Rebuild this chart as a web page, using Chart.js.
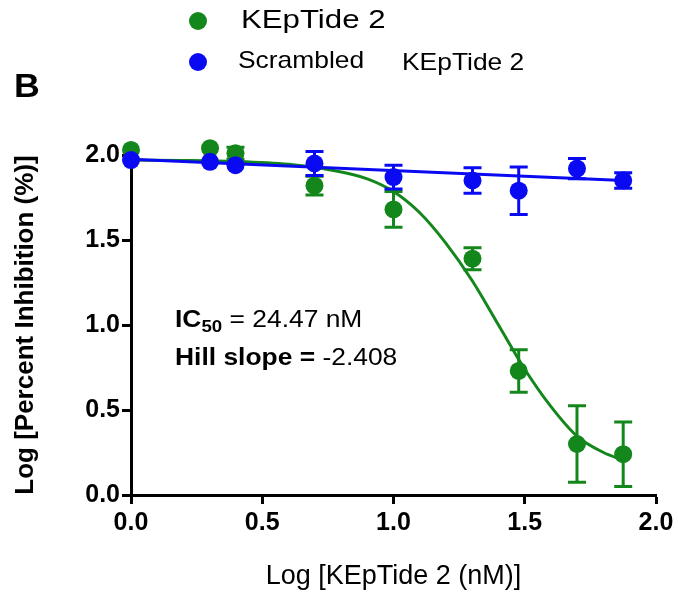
<!DOCTYPE html>
<html>
<head>
<meta charset="utf-8">
<script src="https://cdn.jsdelivr.net/npm/chart.js@4.4.1/dist/chart.umd.min.js"></script>
<style>
  html, body { margin: 0; padding: 0; background: #fff; }
  #wrap { width: 678px; height: 597px; position: relative; }
</style>
</head>
<body>
<div id="wrap"><canvas id="ic50Chart"></canvas></div>
<script>
// log [nM] de cada dosis
const dosis = [0, 0.301, 0.398, 0.699, 1.0, 1.301, 1.477, 1.699, 1.875];
const kepTide = [2.03, 2.04, 2.01, 1.82, 1.68, 1.39, 0.73, 0.3, 0.24];
const kepTideErr = [0, 0, 0.035, 0.055, 0.105, 0.065, 0.125, 0.225, 0.19];
const scrambled = [1.97, 1.96, 1.94, 1.95, 1.87, 1.85, 1.79, 1.92, 1.85];
const scrambledErr = [0, 0, 0, 0.07, 0.07, 0.075, 0.14, 0.06, 0.045];

// curva ajustada
const curvaX = [0, 0.2, 0.4, 0.6, 0.75, 0.9, 1.0, 1.1, 1.2, 1.3, 1.4, 1.5, 1.6, 1.7, 1.8, 1.875];
const curvaKepTide = [1.97, 1.968, 1.962, 1.945, 1.915, 1.86, 1.785, 1.66, 1.48, 1.26, 1.0, 0.74, 0.52, 0.345, 0.25, 0.205];
const rectaX = [0, 1.875];
const rectaScrambled = [1.975, 1.85];

const ejeTicks = [0, 0.5, 1.0, 1.5, 2.0];

const VERDE = "#14871c";
const AZUL = "#0a0af2";
const FUENTE = "'Liberation Sans', Arial, sans-serif";

Chart.defaults.font.family = FUENTE;
Chart.defaults.color = "#000";

const puntos = (xs, ys) => xs.map((x, i) => ({ x: x, y: ys[i] }));

const barrasError = {
  id: "barrasError",
  afterDatasetDraw(chart, args) {
    const ds = chart.data.datasets[args.index];
    if (!ds.errores) return;
    const ctx = chart.ctx;
    const xs = chart.scales.x;
    const ys = chart.scales.y;
    ctx.save();
    ctx.strokeStyle = ds.backgroundColor;
    ctx.lineWidth = 3;
    ds.data.forEach((p, i) => {
      const e = ds.errores[i];
      if (!e) return;
      const px = xs.getPixelForValue(p.x);
      const y1 = ys.getPixelForValue(p.y + e);
      const y2 = ys.getPixelForValue(p.y - e);
      ctx.beginPath();
      ctx.moveTo(px, y1);
      ctx.lineTo(px, y2);
      ctx.moveTo(px - 9, y1);
      ctx.lineTo(px + 9, y1);
      ctx.moveTo(px - 9, y2);
      ctx.lineTo(px + 9, y2);
      ctx.stroke();
    });
    ctx.restore();
  },
};

function textoEstirado(ctx, partes, x, y, sx) {
  ctx.save();
  ctx.translate(x, y);
  ctx.scale(sx, 1);
  ctx.textBaseline = "middle";
  ctx.textAlign = "left";
  ctx.fillStyle = "#000";
  let cx = 0;
  partes.forEach((p) => {
    ctx.font = p.font;
    ctx.fillText(p.t, cx, p.dy || 0);
    cx += ctx.measureText(p.t).width;
  });
  ctx.restore();
}

const textos = {
  id: "textos",
  afterDraw(chart) {
    const ctx = chart.ctx;
    // leyenda
    ctx.save();
    ctx.fillStyle = VERDE;
    ctx.beginPath();
    ctx.arc(198, 21, 9, 0, Math.PI * 2);
    ctx.fill();
    ctx.fillStyle = AZUL;
    ctx.beginPath();
    ctx.arc(198, 62, 9, 0, Math.PI * 2);
    ctx.fill();
    ctx.restore();
    textoEstirado(ctx, [{ t: "KEpTide 2", font: "26px " + FUENTE }], 241, 21, 1.2);
    textoEstirado(ctx, [{ t: "Scrambled", font: "24px " + FUENTE }], 238, 61, 1.1);
    textoEstirado(ctx, [{ t: "KEpTide 2", font: "24px " + FUENTE }], 402, 63, 1.1);
    textoEstirado(ctx, [{ t: "B", font: "bold 34px " + FUENTE }], 14, 88, 1.05);
    // anotaciones
    textoEstirado(ctx, [
      { t: "IC", font: "bold 24px " + FUENTE },
      { t: "50", font: "bold 17px " + FUENTE, dy: 7 },
      { t: " = 24.47 nM", font: "24px " + FUENTE },
    ], 175, 320, 1.1);
    textoEstirado(ctx, [
      { t: "Hill slope =", font: "bold 24px " + FUENTE },
      { t: " -2.408", font: "24px " + FUENTE },
    ], 175, 358, 1.1);
  },
};

const ejeComun = {
  type: "linear",
  min: 0,
  max: 2,
  afterBuildTicks: (s) => {
    s.ticks = ejeTicks.map((v) => ({ value: v }));
  },
  grid: { drawOnChartArea: false, drawTicks: true, tickLength: 9, tickWidth: 3, tickColor: "#000" },
  border: { display: true, width: 3, color: "#000" },
};

new Chart(document.getElementById("ic50Chart"), {
  type: "scatter",
  data: {
    datasets: [
      {
        label: "Scrambled KEpTide 2",
        data: puntos(dosis, scrambled),
        errores: scrambledErr,
        backgroundColor: AZUL,
        borderColor: AZUL,
        pointRadius: 9,
        pointBorderWidth: 0,
        showLine: false,
        clip: false,
        order: 0,
      },
      {
        label: "ajuste scrambled",
        data: puntos(rectaX, rectaScrambled),
        borderColor: AZUL,
        borderWidth: 3,
        pointRadius: 0,
        showLine: true,
        clip: false,
        order: 1,
      },
      {
        label: "KEpTide 2",
        data: puntos(dosis, kepTide),
        errores: kepTideErr,
        backgroundColor: VERDE,
        borderColor: VERDE,
        pointRadius: 9,
        pointBorderWidth: 0,
        showLine: false,
        clip: false,
        order: 2,
      },
      {
        label: "ajuste KEpTide 2",
        data: puntos(curvaX, curvaKepTide),
        borderColor: VERDE,
        borderWidth: 3,
        pointRadius: 0,
        showLine: true,
        cubicInterpolationMode: "monotone",
        clip: false,
        order: 3,
      },
    ],
  },
  options: {
    responsive: true,
    maintainAspectRatio: false,
    animation: false,
    layout: { padding: { top: 155, right: 22, left: 0, bottom: 0 } },
    plugins: { legend: { display: false }, tooltip: { enabled: false } },
    scales: {
      x: {
        ...ejeComun,
        ticks: {
          callback: (v) => Number(v).toFixed(1),
          font: { size: 25, weight: "bold" },
          padding: 4,
          maxRotation: 0,
        },
        title: {
          display: true,
          text: "Log [KEpTide 2 (nM)]",
          font: { size: 27 },
          padding: { top: 0, bottom: 4 },
        },
        afterFit: (s) => {
          s.height = 102;
        },
      },
      y: {
        ...ejeComun,
        ticks: {
          callback: (v) => Number(v).toFixed(1),
          font: { size: 25, weight: "bold" },
          padding: 2,
        },
        title: {
          display: true,
          text: "Log [Percent Inhibition (%)]",
          font: { size: 26, weight: "bold" },
          padding: { top: 10, bottom: 0 },
        },
        afterFit: (s) => {
          s.width = 131;
        },
      },
    },
  },
  plugins: [barrasError, textos],
});
</script>
</body>
</html>
